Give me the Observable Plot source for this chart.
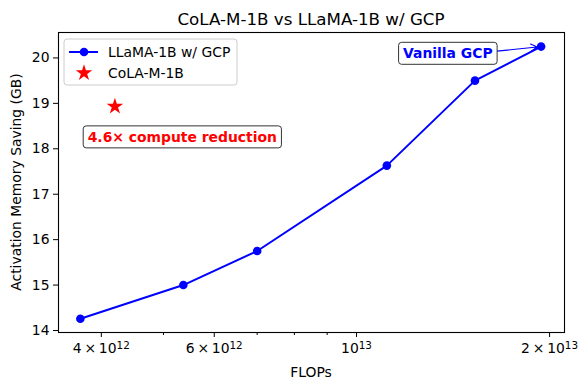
<!DOCTYPE html>
<html>
<head>
<meta charset="utf-8">
<script src="https://cdn.jsdelivr.net/npm/d3@7"></script>
<script src="https://cdn.jsdelivr.net/npm/@observablehq/plot@0.6"></script>
<style>
  html, body { margin: 0; padding: 0; background: white; }
  #chart { position: relative; width: 588px; height: 390px; }
  svg { font-family: "DejaVu Sans", sans-serif; }
</style>
</head>
<body>
<div id="chart"></div>
<script>
// ---- Data ----
const flops = [3.71e12, 5.37e12, 7.0e12, 1.115e13, 1.53e13, 1.94e13];
const memorySaving = [14.26, 15.0, 15.75, 17.63, 19.5, 20.25];
const colaFlops = [4.2e12];
const colaMemorySaving = [18.93];
const seriesNames = ["LLaMA-1B w/ GCP", "CoLA-M-1B"];
const xMajorTicks = [4e12, 6e12, 1e13, 2e13];
const xTickMantissa = ["4", "6", "", "2"];
const xTickExponent = ["12", "12", "13", "13"];
const xMinorTicks = [5e12, 7e12, 8e12, 9e12];
const yTicks = [14, 15, 16, 17, 18, 19, 20];
const annotationTexts = ["4.6× compute reduction", "Vanilla GCP"];
const annotationX = [5.35e12, 1.388e13];
const annotationY = [18.25, 20.09];
const annotationColors = ["red", "blue"];
const arrowFrom = [1.655e13, 20.15];
const arrowTo = [1.94e13, 20.25];
const titleText = "CoLA-M-1B vs LLaMA-1B w/ GCP";
const xLabel = "FLOPs";
const yLabel = "Activation Memory Saving (GB)";

// ---- Tables ----
const llama = flops.map((f, i) => ({x: f, y: memorySaving[i]}));
const cola = colaFlops.map((f, i) => ({x: f, y: colaMemorySaving[i]}));
const notes = annotationTexts.map((t, i) => ({text: t, x: annotationX[i], y: annotationY[i], color: annotationColors[i]}));
const tickIndex = new Map(xMajorTicks.map((t, i) => [t, i]));
const mantissaPart = i => (xTickMantissa[i] ? xTickMantissa[i] + "\u2009×\u2009" : "") + "10";
const plainTick = i => mantissaPart(i) + "^" + xTickExponent[i];

const W = 588, H = 390, mT = 32, mB = 58, mL = 58, mR = 24;

const plot = Plot.plot({
  width: W,
  height: H,
  marginTop: mT,
  marginBottom: mB,
  marginLeft: mL,
  marginRight: mR,
  style: {fontFamily: "DejaVu Sans, sans-serif", fontSize: "13.9px", color: "black", background: "white"},
  x: {type: "log", domain: [3.43e12, 2.11e13]},
  y: {domain: [13.956, 20.56]},
  marks: [
    Plot.axisX({ticks: xMinorTicks, tickSize: 3, tickFormat: () => "", label: null, stroke: "black"}),
    Plot.axisX({ticks: xMajorTicks, tickSize: 5, tickPadding: 6, tickFormat: d => plainTick(tickIndex.get(d)), label: null, stroke: "black"}),
    Plot.axisY({ticks: yTicks, tickSize: 5, tickPadding: 4, tickFormat: d3.format("d"), label: null, stroke: "black"}),
    Plot.line(llama, {x: "x", y: "y", stroke: "blue", strokeWidth: 2}),
    Plot.dot(llama, {x: "x", y: "y", r: 4.3, fill: "blue", stroke: "none"}),
    Plot.dot(cola, {x: "x", y: "y", r: 5.2, symbol: "star", fill: "red", stroke: "none"}),
    Plot.arrow([{x1: arrowFrom[0], y1: arrowFrom[1], x2: arrowTo[0], y2: arrowTo[1]}],
      {x1: "x1", y1: "y1", x2: "x2", y2: "y2", stroke: "blue", strokeWidth: 1.2, headLength: 9, insetEnd: 4}),
    Plot.text(notes, {x: "x", y: "y", text: "text", fill: "color", fontWeight: "bold", fontSize: 13.9}),
    Plot.frame({stroke: "black", strokeWidth: 1.1})
  ]
});

document.getElementById("chart").appendChild(plot);
const svg = d3.select(plot);
const svgRect = plot.getBoundingClientRect();

// Tick label fonts
svg.selectAll('g[aria-label="y-axis tick label"], g[aria-label="x-axis tick label"]')
  .attr("font-size", 13.9).attr("fill", "black");

// X tick labels with raised exponents
svg.selectAll('g[aria-label="x-axis tick label"] text').each(function() {
  const t = this.textContent;
  const i = xMajorTicks.findIndex((v, k) => plainTick(k) === t);
  if (i < 0) return;
  const sel = d3.select(this);
  sel.text(null);
  sel.append("tspan").text(mantissaPart(i));
  sel.append("tspan").attr("dy", "-0.42em").attr("font-size", "75%").text(xTickExponent[i]);
});

// Boxes behind annotation texts
svg.selectAll("text").each(function() {
  if (!annotationTexts.includes(this.textContent)) return;
  const r = this.getBoundingClientRect();
  const padX = 4.5, padY = 3;
  const markG = this.closest("svg > g") || this.parentNode;
  const rect = document.createElementNS("http://www.w3.org/2000/svg", "rect");
  rect.setAttribute("x", r.left - svgRect.left - padX);
  rect.setAttribute("y", r.top - svgRect.top - padY);
  rect.setAttribute("width", r.width + 2 * padX);
  rect.setAttribute("height", r.height + 2 * padY);
  rect.setAttribute("rx", 3);
  rect.setAttribute("fill", "white");
  rect.setAttribute("stroke", "#333");
  rect.setAttribute("stroke-width", 1);
  markG.parentNode.insertBefore(rect, markG);
});

// Title and axis labels
const deco = svg.append("g").attr("font-family", "DejaVu Sans, sans-serif").attr("fill", "black");
deco.append("text").attr("x", mL + (W - mL - mR) / 2).attr("y", 19).attr("dy", "0.35em")
  .attr("text-anchor", "middle").attr("font-size", 16.7).text(titleText);
deco.append("text").attr("x", mL + (W - mL - mR) / 2).attr("y", 372).attr("dy", "0.35em")
  .attr("text-anchor", "middle").attr("font-size", 13.9).text(xLabel);
deco.append("text").attr("transform", `translate(16,${mT + (H - mT - mB) / 2}) rotate(-90)`).attr("dy", "0.35em")
  .attr("text-anchor", "middle").attr("font-size", 13.9).text(yLabel);

// Legend (decoration)
const lg = svg.append("g").attr("font-family", "DejaVu Sans, sans-serif").attr("font-size", 13.9);
lg.append("rect").attr("x", 64).attr("y", 39).attr("width", 173).attr("height", 46).attr("rx", 3)
  .attr("fill", "white").attr("fill-opacity", 0.8).attr("stroke", "#ccc");
lg.append("line").attr("x1", 69).attr("x2", 98).attr("y1", 52).attr("y2", 52).attr("stroke", "blue").attr("stroke-width", 2);
lg.append("circle").attr("cx", 84).attr("cy", 52).attr("r", 4.3).attr("fill", "blue");
lg.append("path").attr("d", d3.symbol(d3.symbolStar, Math.PI * 27)()).attr("transform", "translate(84,73)").attr("fill", "red");
lg.append("text").attr("x", 108).attr("y", 52).attr("dy", "0.35em").attr("text-anchor", "start").attr("fill", "black").text(seriesNames[0]);
lg.append("text").attr("x", 108).attr("y", 73).attr("dy", "0.35em").attr("text-anchor", "start").attr("fill", "black").text(seriesNames[1]);
</script>
</body>
</html>
